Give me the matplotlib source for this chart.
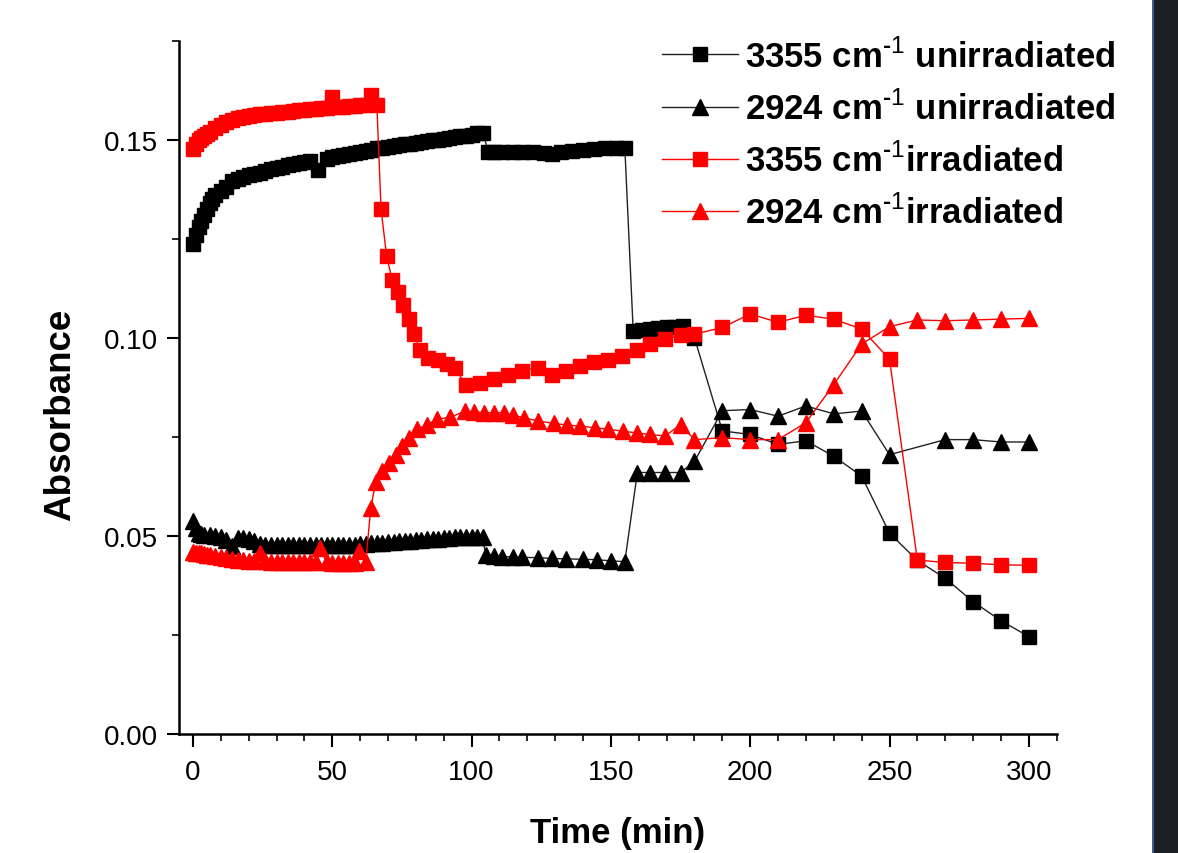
import numpy as np
import matplotlib
matplotlib.use("Agg")
import matplotlib.pyplot as plt
from matplotlib.patches import Rectangle
from matplotlib.ticker import MultipleLocator

plt.rcParams['font.family'] = ['Liberation Sans', 'DejaVu Sans']
plt.rcParams['mathtext.fontset'] = 'custom'
plt.rcParams['mathtext.rm'] = 'Liberation Sans'
plt.rcParams['mathtext.bf'] = 'Liberation Sans:bold'

# ---------------- data ----------------
# 3355 cm-1, unirradiated (black squares)
t_sq_un = [0, 1, 2, 3, 4, 5, 6, 7, 8, 10, 12, 14, 16, 18, 20, 22, 24, 26, 28, 30,
           32, 34, 36, 38, 40, 42, 45, 48, 50, 52, 54, 56, 58, 60, 62, 64, 66, 68, 70,
           72, 74, 76, 78, 80, 82, 84, 86, 88, 90, 92, 94, 96, 98, 100, 102, 104,
           106, 108, 111, 115, 118, 122, 126, 129, 132, 136, 140, 144, 148, 152, 155,
           158, 161, 164, 167, 170, 173, 176,
           180, 190, 200, 210, 220, 230, 240, 250, 260, 270, 280, 290, 300]
a_sq_un = [0.1237, 0.1260, 0.1280, 0.1295, 0.1310, 0.1325, 0.1340, 0.1350, 0.1360, 0.1370,
           0.1380, 0.1395, 0.1400, 0.1405, 0.1410, 0.1413, 0.1417, 0.1420, 0.1425, 0.1428,
           0.1432, 0.1435, 0.1438, 0.1441, 0.1444, 0.1447, 0.1424, 0.1452, 0.1455, 0.1458,
           0.1461, 0.1464, 0.1467, 0.1470, 0.1472, 0.1475, 0.1478, 0.1480, 0.1482, 0.1484,
           0.1486, 0.1488, 0.1490, 0.1492, 0.1494, 0.1496, 0.1498, 0.1500, 0.1502, 0.1504,
           0.1506, 0.1508, 0.1510, 0.1513, 0.1516, 0.1518,
           0.1470, 0.1470, 0.1470, 0.1470, 0.1469, 0.1468, 0.1466, 0.1464, 0.1468, 0.1472,
           0.1474, 0.1476, 0.1478, 0.1480, 0.1480,
           0.1018, 0.1020, 0.1022, 0.1024, 0.1026, 0.1028, 0.1030,
           0.1000, 0.0765, 0.0756, 0.0731, 0.0740, 0.0701, 0.0651, 0.0507, 0.0438, 0.0393,
           0.0334, 0.0286, 0.0246]

# 2924 cm-1, unirradiated (black triangles)
t_tr_un = [0, 1, 2, 3, 4, 6, 8, 10, 12, 14, 16, 18, 20, 22, 24, 26, 28, 30, 32, 34,
           36, 38, 40, 42, 44, 46, 48, 50, 52, 54, 56, 58, 60, 62, 64, 66, 68, 70, 72,
           74, 76, 78, 80, 82, 84, 86, 88, 90, 92, 94, 96, 98, 100, 102, 104,
           105, 108, 111, 115, 118, 124, 129, 134, 140, 145, 150, 155,
           159.5, 164, 169.5, 175,
           180, 190, 200, 210, 220, 230, 240, 250, 270, 280, 290, 300]
a_tr_un = [0.0537, 0.0520, 0.0508, 0.0505, 0.0503, 0.0502, 0.0500, 0.0498, 0.0490, 0.0474,
           0.0494, 0.0494, 0.0492, 0.0488, 0.0480, 0.0477, 0.0477, 0.0477, 0.0477, 0.0477,
           0.0477, 0.0477, 0.0477, 0.0477, 0.0477, 0.0477, 0.0477, 0.0477, 0.0477, 0.0477,
           0.0477, 0.0478, 0.0479, 0.0480, 0.0481, 0.0482, 0.0483, 0.0484, 0.0485, 0.0486,
           0.0487, 0.0488, 0.0489, 0.0490, 0.0491, 0.0492, 0.0493, 0.0494, 0.0495, 0.0496,
           0.0497, 0.0497, 0.0498, 0.0498, 0.0498,
           0.0452, 0.0450, 0.0448, 0.0447, 0.0446, 0.0445, 0.0443, 0.0442, 0.0441, 0.0440,
           0.0437, 0.0435,
           0.0660, 0.0660, 0.0660, 0.0660,
           0.0688, 0.0816, 0.0819, 0.0802, 0.0828, 0.0808, 0.0815, 0.0705, 0.0743, 0.0743,
           0.0737, 0.0737]

# 3355 cm-1, irradiated (red squares)
t_sq_ir = [0, 1, 2, 3, 4, 5, 6, 8, 10, 12, 14, 16, 18, 20, 22, 24, 26, 28, 30, 32, 34,
           36, 38, 40, 42, 44, 46, 48, 50, 52, 54, 56, 58, 60, 62, 64, 66,
           67.5, 69.5, 71.5, 73.5, 75.5, 77.5, 79.5, 81.5, 84.5, 88, 91, 94, 98, 103, 108,
           113, 118, 124, 129, 134, 139, 144, 149, 154, 159.5, 164, 169.5, 175,
           180, 190, 200, 210, 220, 230, 240, 250, 260, 270, 280, 290, 300]
a_sq_ir = [0.1477, 0.1490, 0.1500, 0.1505, 0.1510, 0.1515, 0.1520, 0.1530, 0.1536, 0.1545,
           0.1550, 0.1554, 0.1557, 0.1560, 0.1562, 0.1564, 0.1565, 0.1567, 0.1568, 0.1570,
           0.1571, 0.1572, 0.1574, 0.1575, 0.1577, 0.1578, 0.1579, 0.1580, 0.1608, 0.1582,
           0.1583, 0.1584, 0.1586, 0.1587, 0.1588, 0.1613, 0.1587,
           0.1325, 0.1206, 0.1146, 0.1115, 0.1082, 0.1047, 0.1009, 0.0968, 0.0950, 0.0945,
           0.0935, 0.0925, 0.0880, 0.0887, 0.0895, 0.0905, 0.0917, 0.0925, 0.0905, 0.0917,
           0.0930, 0.0938, 0.0945, 0.0955, 0.0970, 0.0984, 0.0996, 0.1006,
           0.1009, 0.1026, 0.1060, 0.1039, 0.1057, 0.1047, 0.1022, 0.0946, 0.0439, 0.0433,
           0.0431, 0.0427, 0.0426]

# 2924 cm-1, irradiated (red triangles)
t_tr_ir = [0, 1, 2, 3, 4, 5, 6, 8, 10, 12, 14, 16, 18, 20, 22, 24, 26, 28, 30, 32, 34,
           36, 38, 40, 42, 44, 45.5, 48, 50, 52, 54, 56, 58, 59.5, 62,
           63.8, 65.6, 68, 70.4, 72.8, 75.1, 77.5, 80.5, 84, 87.6, 92.4, 97.8, 101, 104.3,
           108, 111.5, 115, 118.7, 124, 129.4, 134.2, 139, 144.3, 149.1, 154.5, 159.3,
           164, 169.5, 175,
           180, 190, 200, 210, 220, 230, 240, 250, 260, 270, 280, 290, 300]
a_tr_ir = [0.0460, 0.0458, 0.0457, 0.0456, 0.0455, 0.0453, 0.0452, 0.0450, 0.0447, 0.0444,
           0.0442, 0.0439, 0.0438, 0.0437, 0.0436, 0.0456, 0.0436, 0.0435, 0.0434, 0.0433,
           0.0433, 0.0433, 0.0433, 0.0433, 0.0433, 0.0433, 0.0469, 0.0433, 0.0432, 0.0432,
           0.0432, 0.0432, 0.0432, 0.0461, 0.0433,
           0.0570, 0.0637, 0.0663, 0.0684, 0.0705, 0.0726, 0.0748, 0.0769, 0.0781, 0.0794,
           0.0800, 0.0815, 0.0813, 0.0811, 0.0811, 0.0811, 0.0805, 0.0798, 0.0790, 0.0784,
           0.0780, 0.0777, 0.0773, 0.0769, 0.0764, 0.0760, 0.0756, 0.0752, 0.0781,
           0.0743, 0.0748, 0.0743, 0.0743, 0.0786, 0.0882, 0.0984, 0.1028, 0.1045, 0.1043,
           0.1045, 0.1047, 0.1049]

# superscript uses a plain hyphen, like the original
labels = ['3355 cm$^{\\mathregular{\u2010}1}$ unirradiated',
          '2924 cm$^{\\mathregular{\u2010}1}$ unirradiated',
          '3355 cm$^{\\mathregular{\u2010}1}$irradiated',
          '2924 cm$^{\\mathregular{\u2010}1}$irradiated']

# ---------------- plot ----------------
fig = plt.figure(figsize=(11.78, 8.54), dpi=100)
ax = fig.add_axes([0.152, 0.1393, 0.745, 0.812])

ax.plot(t_sq_un, a_sq_un, color='#222222', lw=1.0, marker='s', ms=10,
        mfc='black', mec='black', label=labels[0])
ax.plot(t_tr_un, a_tr_un, color='#222222', lw=1.0, marker='^', ms=11,
        mfc='black', mec='black', label=labels[1])
ax.plot(t_sq_ir, a_sq_ir, color='red', lw=1.0, marker='s', ms=10,
        mfc='red', mec='red', label=labels[2])
ax.plot(t_tr_ir, a_tr_ir, color='red', lw=1.0, marker='^', ms=11,
        mfc='red', mec='red', label=labels[3])

ax.set_xlim(-5, 310)
ax.set_ylim(0, 0.175)
ax.xaxis.set_major_locator(MultipleLocator(50))
ax.xaxis.set_minor_locator(MultipleLocator(10))
ax.yaxis.set_major_locator(MultipleLocator(0.05))
ax.yaxis.set_minor_locator(MultipleLocator(0.025))
ax.yaxis.set_major_formatter(matplotlib.ticker.FormatStrFormatter('%.2f'))

for s in ['top', 'right']:
    ax.spines[s].set_visible(False)
for s in ['left', 'bottom']:
    ax.spines[s].set_linewidth(1.8)

ax.tick_params(which='major', direction='out', length=9, width=1.5, labelsize=20)
ax.tick_params(axis='x', which='major', pad=9)
ax.tick_params(axis='y', which='major', pad=6)
ax.tick_params(which='minor', direction='out', length=5, width=1.2)

ax.set_xlabel('Time (min)', fontsize=25, fontweight='bold')
ax.set_ylabel('Absorbance', fontsize=26.5, fontweight='bold')
ax.xaxis.set_label_coords(0.5, -0.118)
ax.yaxis.set_label_coords(-0.115, 0.462)

leg = fig.legend(loc='upper left', bbox_to_anchor=(0.562, 0.954), frameon=False,
                 prop={'size': 25, 'weight': 'bold'}, handlelength=2.2,
                 handletextpad=0.2, labelspacing=0.49, borderpad=0, borderaxespad=0)

# dark strip on the right edge of the screenshot
fig.patches.append(Rectangle((1152 / 1178, 0), 26 / 1178, 1, transform=fig.transFigure,
                             facecolor='#1d1e22', edgecolor='none', zorder=-1))
fig.patches.append(Rectangle((1152 / 1178, 0), 2 / 1178, 1, transform=fig.transFigure,
                             facecolor='#3d5c9a', edgecolor='none', zorder=-1))

fig.savefig('out.png', dpi=100)
